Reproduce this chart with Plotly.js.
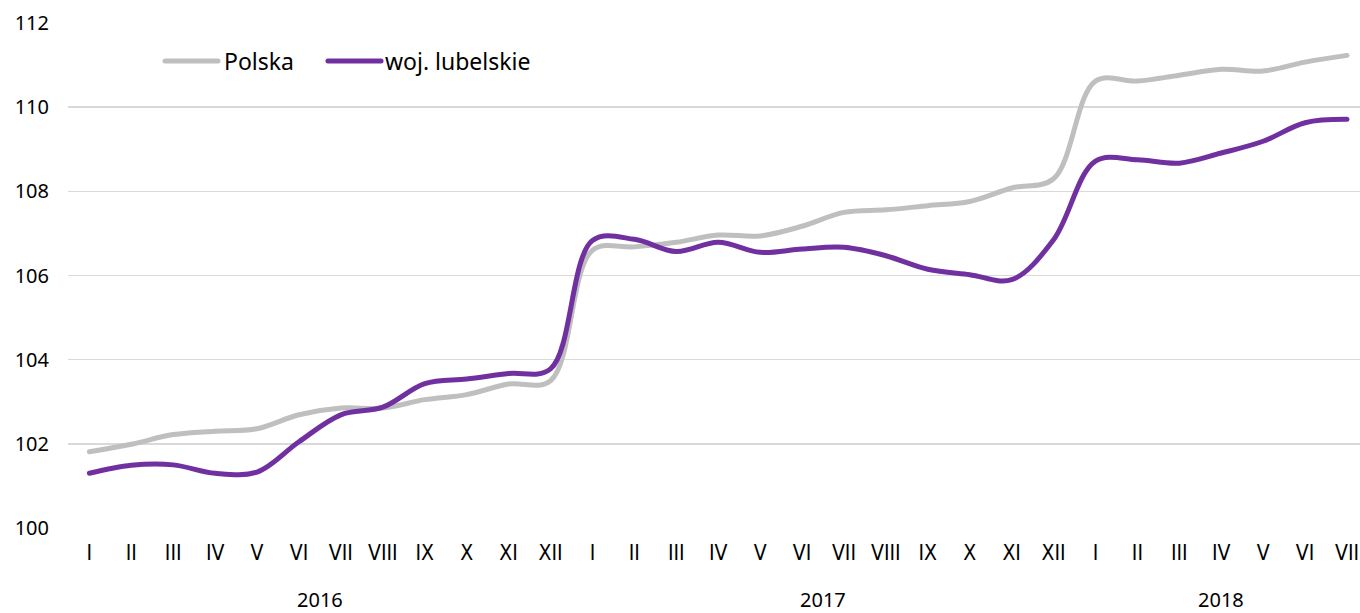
<!DOCTYPE html>
<html>
<head>
<meta charset="utf-8">
<script src="https://cdn.plot.ly/plotly-3.0.1.min.js"></script>
<style>
  html, body { margin: 0; padding: 0; background: #ffffff; }
  #chart { width: 1360px; height: 613px; }
  .scatterlayer .js-line { stroke-linecap: round; stroke-linejoin: round; }
  .layer-above path, .shapelayer path { stroke-linecap: round; }
</style>
</head>
<body>
<div id="chart"></div>
<script>
// ---- data ----
const years = ['2016', '2017', '2018'];
const months2016 = ['I','II','III','IV','V','VI','VII','VIII','IX','X','XI','XII'];
const months2017 = ['I','II','III','IV','V','VI','VII','VIII','IX','X','XI','XII'];
const months2018 = ['I','II','III','IV','V','VI','VII'];

const polska = [101.81, 101.99, 102.22, 102.30, 102.36, 102.69, 102.85, 102.85, 103.05, 103.17, 103.42, 103.50,
                106.60, 106.68, 106.79, 106.96, 106.94, 107.17, 107.50, 107.56, 107.66, 107.76, 108.08, 108.30,
                110.62, 110.62, 110.76, 110.90, 110.86, 111.07, 111.23];
const lubelskie = [101.30, 101.49, 101.50, 101.30, 101.33, 102.05, 102.69, 102.87, 103.43, 103.54, 103.67, 103.78,
                   106.83, 106.86, 106.57, 106.79, 106.55, 106.63, 106.67, 106.47, 106.15, 106.02, 105.90, 106.85,
                   108.72, 108.75, 108.67, 108.91, 109.19, 109.63, 109.71];
const seriesNames = ['Polska', 'woj. lubelskie'];
const yTicks = [100, 102, 104, 106, 108, 110, 112];

// ---- build axis ----
const groups = [months2016, months2017, months2018];
const tickText = [].concat(...groups);
const xIdx = tickText.map((_, i) => i);
const yearCenters = [];
let start = 0;
groups.forEach(g => { yearCenters.push(start + (g.length - 1) / 2); start += g.length; });

const GREY = '#bfbfbf';
const PURPLE = '#7030a0';
const FONT = '"Noto Sans", "Open Sans", sans-serif';

const traces = [
  { x: xIdx, y: polska, name: seriesNames[0], type: 'scatter', mode: 'lines',
    line: { color: GREY, width: 5, shape: 'spline', smoothing: 1 }, hoverinfo: 'y' },
  { x: xIdx, y: lubelskie, name: seriesNames[1], type: 'scatter', mode: 'lines',
    line: { color: PURPLE, width: 5, shape: 'spline', smoothing: 1 }, hoverinfo: 'y' }
];

const annotations = years.map((yr, i) => ({
  x: yearCenters[i], xref: 'x', y: -0.141, yref: 'paper',
  text: yr, showarrow: false, xanchor: 'center', yanchor: 'middle',
  font: { family: FONT, size: 20, color: '#000000' }
}));

// manual legend
const legY = 0.9248;
const legend = [
  { x0: 0.0751, x1: 0.1161, color: GREY, tx: 0.1190, name: seriesNames[0] },
  { x0: 0.2012, x1: 0.2423, color: PURPLE, tx: 0.2436, name: seriesNames[1] }
];
const shapes = legend.map(l => ({
  type: 'line', xref: 'paper', yref: 'paper', x0: l.x0, x1: l.x1, y0: legY, y1: legY,
  line: { color: l.color, width: 5 }
}));
legend.forEach(l => annotations.push({
  x: l.tx, xref: 'paper', y: legY, yref: 'paper', text: l.name, showarrow: false,
  xanchor: 'left', yanchor: 'middle', font: { family: FONT, size: 23, color: '#000000' }
}));

const layout = {
  width: 1360, height: 613,
  margin: { l: 68, r: 0, t: 23, b: 85 },
  paper_bgcolor: '#ffffff', plot_bgcolor: '#ffffff',
  showlegend: false,
  xaxis: {
    range: [-0.51, 30.31], tickmode: 'array', tickvals: xIdx, ticktext: tickText,
    showgrid: false, zeroline: false, showline: false, ticks: '',
    ticklabelstandoff: 10,
    tickfont: { family: '"DejaVu Sans Condensed", "DejaVu Sans", sans-serif', size: 21, color: '#000000' },
    fixedrange: true
  },
  yaxis: {
    range: [100, 112], tickmode: 'array', tickvals: yTicks,
    showgrid: true, gridcolor: '#d9d9d9', gridwidth: 1.5,
    zeroline: false, showline: false, ticks: '',
    ticklabelstandoff: 18,
    tickfont: { family: FONT, size: 20, color: '#000000' },
    fixedrange: true
  },
  shapes: shapes,
  annotations: annotations
};

Plotly.newPlot('chart', traces, layout, { displayModeBar: false, staticPlot: true });
</script>
</body>
</html>
